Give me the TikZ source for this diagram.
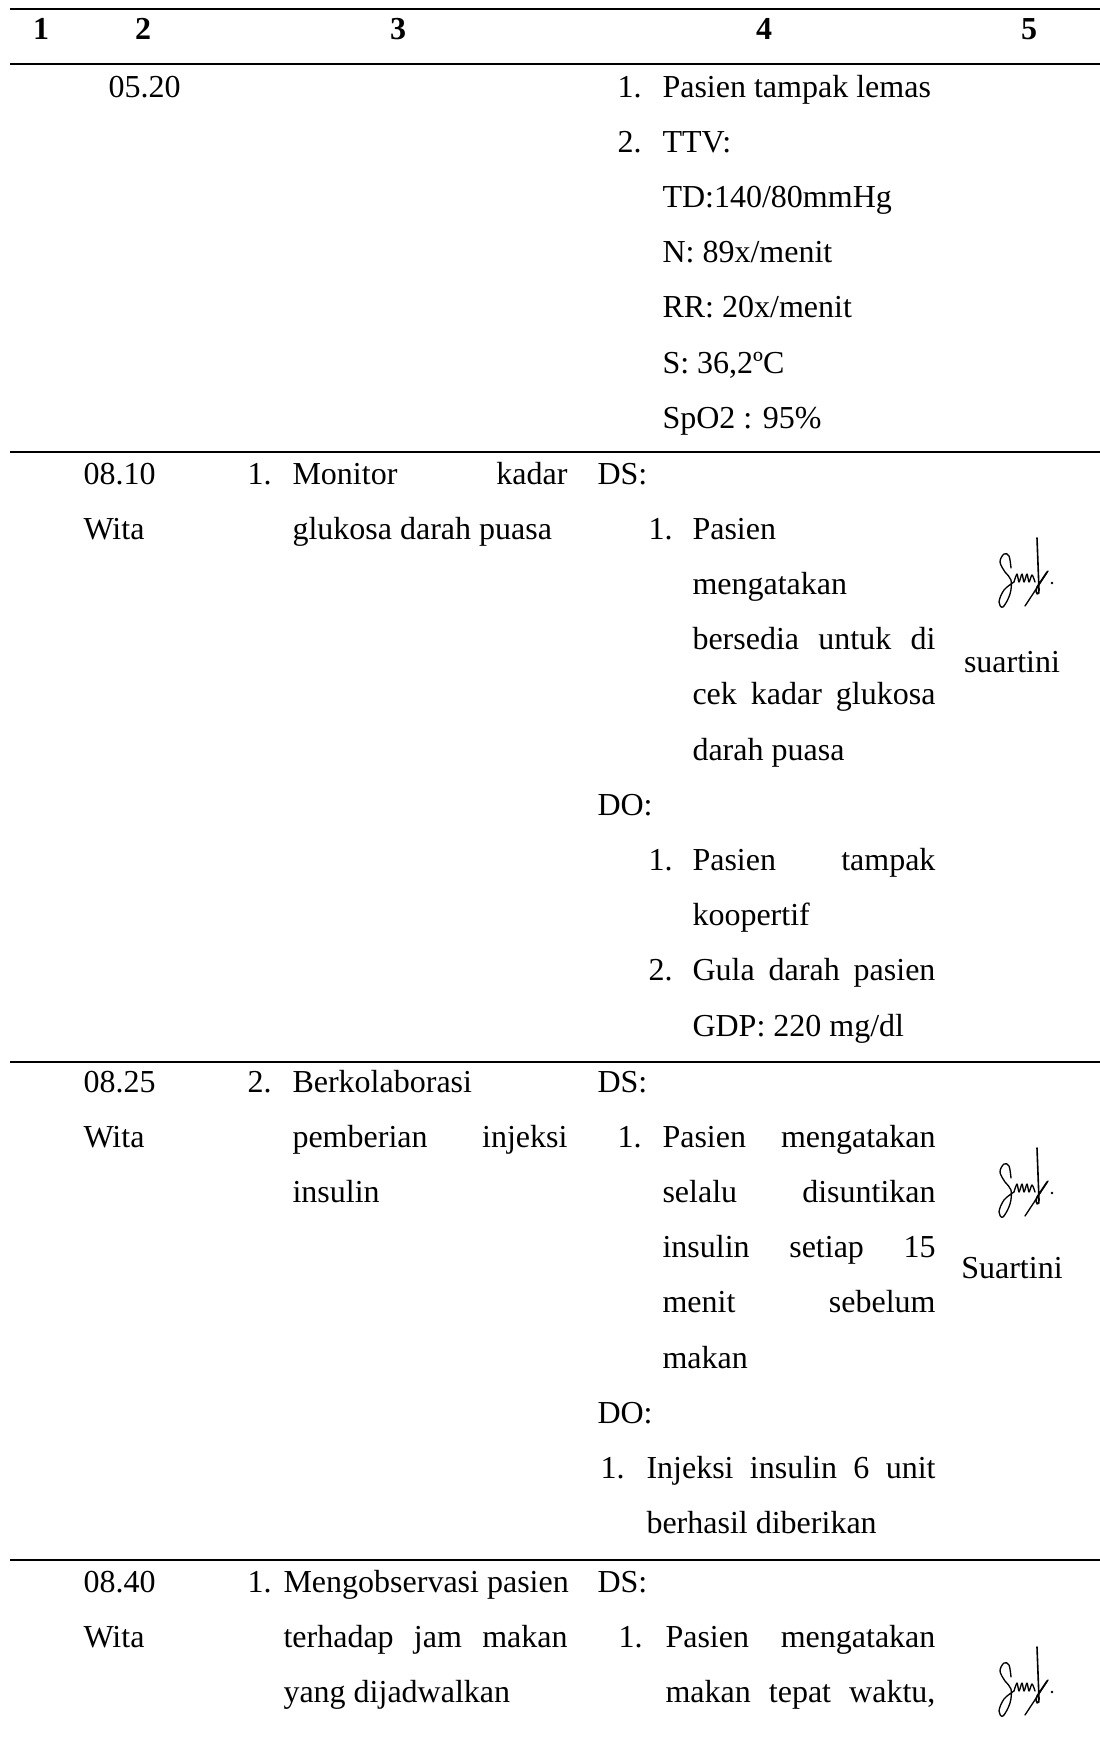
\documentclass[tikz,border=0pt]{standalone}
\usepackage{fontspec}
\setmainfont{Liberation Serif}

\newcommand{\rata}[2]{\hbox to #1{#2}}

\tikzset{
    ttd/.pic={
        \draw[line width=0.5pt, line cap=round, line join=round]
            plot[smooth, tension=0.6] coordinates {(14,30) (12,18) (7,16) (3,24) (8,34) (14,42) (13,56) (6,69) (2,64) (7,52) (17,44)};
        \draw[line width=0.5pt, line cap=round, line join=round]
            plot[smooth, tension=0.5] coordinates {(17,44) (20,36) (22,44) (25,36) (27,44) (30,36) (32,44) (35,37) (38,44)};
        \draw[line width=0.6pt, line cap=round] (40,0) -- (42,52) .. controls (43,58) and (37,57) .. (40,49) -- (50,34);
        \draw[line width=0.5pt, line cap=round] (51,33) -- (28,68);
        \fill (55,45) circle (1.3);
    }
}

\begin{document}
\begin{tikzpicture}[
            x=0.375pt, y=-0.375pt,
            teks/.style={anchor=base west, inner sep=0pt, font=\fontsize{12pt}{14pt}\selectfont},
            judul/.style={anchor=base, inner sep=0pt, font=\fontsize{12pt}{14pt}\selectfont\bfseries},
            nama/.style={anchor=base, inner sep=0pt, font=\fontsize{12pt}{14pt}\selectfont},
            garis/.style={line width=0.75pt}
            ]
            \useasboundingbox (0,0) rectangle (1100,1744);

            % garis tabel
            \draw[garis] (10,9) -- (1100,9);
            \draw[garis] (10,64) -- (1100,64);
            \draw[garis] (10,452) -- (1100,452);
            \draw[garis] (10,1062) -- (1100,1062);
            \draw[garis] (10,1560) -- (1100,1560);

            % kepala tabel
            \node[judul] (k1) at (41,39) {1};
            \node[judul] (k2) at (143,39) {2};
            \node[judul] (k3) at (398,39) {3};
            \node[judul] (k4) at (764,39) {4};
            \node[judul] (k5) at (1029,39) {5};

            % baris 05.20
            \node[teks] (a2) at (108,97) {05.20};
            \node[teks] (a4n1) at (617,97) {1.};
            \node[teks] (a4l1) at (662,97) {Pasien tampak lemas};
            \node[teks] (a4n2) at (617,152.2) {2.};
            \node[teks] (a4l2) at (662,152.2) {TTV:};
            \node[teks] (a4l3) at (662,207.4) {TD:140/80mmHg};
            \node[teks] (a4l4) at (662,262.6) {N: 89x/menit};
            \node[teks] (a4l5) at (662,317.8) {RR: 20x/menit};
            \node[teks] (a4l6) at (662,373) {S: 36,2ºC};
            \node[teks] (a4l7) at (662,428.2) {SpO2 : 95\%};

            % baris 08.10
            \node[teks] (b2a) at (83,484) {08.10};
            \node[teks] (b2b) at (83,539.2) {Wita};
            \node[teks] (b3n) at (247,484) {1.};
            \node[teks] (b3a) at (292,484) {\rata{103.1pt}{Monitor\hfill kadar}};
            \node[teks] (b3b) at (292,539.2) {glukosa darah puasa};
            \node[teks] (b4ds) at (597,484) {DS:};
            \node[teks] (b4n1) at (648,539.2) {1.};
            \node[teks] (b4a) at (692,539.2) {Pasien};
            \node[teks] (b4b) at (692,594.4) {mengatakan};
            \node[teks] (b4c) at (692,649.6) {\rata{91.1pt}{bersedia\hfill untuk\hfill di}};
            \node[teks] (b4d) at (692,704.8) {\rata{91.1pt}{cek\hfill kadar\hfill glukosa}};
            \node[teks] (b4e) at (692,760) {darah puasa};
            \node[teks] (b4do) at (597,815.2) {DO:};
            \node[teks] (b4n2) at (648,870.4) {1.};
            \node[teks] (b4f) at (692,870.4) {\rata{91.1pt}{Pasien\hfill tampak}};
            \node[teks] (b4g) at (692,925.6) {koopertif};
            \node[teks] (b4n3) at (648,980.8) {2.};
            \node[teks] (b4h) at (692,980.8) {\rata{91.1pt}{Gula\hfill darah\hfill pasien}};
            \node[teks] (b4i) at (692,1036) {GDP: 220 mg/dl};
            \pic (ttd1) at (997,538) {ttd};
            \node[nama] (b5) at (1012,672) {suartini};

            % baris 08.25
            \node[teks] (c2a) at (83,1092) {08.25};
            \node[teks] (c2b) at (83,1147.2) {Wita};
            \node[teks] (c3n) at (247,1092) {2.};
            \node[teks] (c3a) at (292,1092) {Berkolaborasi};
            \node[teks] (c3b) at (292,1147.2) {\rata{103.1pt}{pemberian\hfill injeksi}};
            \node[teks] (c3c) at (292,1202.4) {insulin};
            \node[teks] (c4ds) at (597,1092) {DS:};
            \node[teks] (c4n1) at (617,1147.2) {1.};
            \node[teks] (c4a) at (662,1147.2) {\rata{102.4pt}{Pasien\hfill mengatakan}};
            \node[teks] (c4b) at (662,1202.4) {\rata{102.4pt}{selalu\hfill disuntikan}};
            \node[teks] (c4c) at (662,1257.6) {\rata{102.4pt}{insulin\hfill setiap\hfill 15}};
            \node[teks] (c4d) at (662,1312.8) {\rata{102.4pt}{menit\hfill sebelum}};
            \node[teks] (c4e) at (662,1368) {makan};
            \node[teks] (c4do) at (597,1423.2) {DO:};
            \node[teks] (c4n2) at (600,1478.4) {1.};
            \node[teks] (c4f) at (646,1478.4) {\rata{108.4pt}{Injeksi\hfill insulin\hfill 6\hfill unit}};
            \node[teks] (c4g) at (646,1533.6) {berhasil diberikan};
            \pic (ttd2) at (997,1148) {ttd};
            \node[nama] (c5) at (1012,1278) {Suartini};

            % baris 08.40
            \node[teks] (d2a) at (83,1592) {08.40};
            \node[teks] (d2b) at (83,1647.2) {Wita};
            \node[teks] (d3n) at (247,1592) {1.};
            \node[teks] (d3a) at (283,1592) {Mengobservasi pasien};
            \node[teks] (d3b) at (283,1647.2) {\rata{106.5pt}{terhadap\hfill jam\hfill makan}};
            \node[teks] (d3c) at (283,1702.4) {yang dijadwalkan};
            \node[teks] (d4ds) at (597,1592) {DS:};
            \node[teks] (d4n1) at (618,1647.2) {1.};
            \node[teks] (d4a) at (665,1647.2) {\rata{101.2pt}{Pasien\hfill mengatakan}};
            \node[teks] (d4b) at (665,1702.4) {\rata{101.2pt}{makan\hfill tepat\hfill waktu,}};
            \pic (ttd3) at (997,1647) {ttd};

        \end{tikzpicture}
\end{document}
